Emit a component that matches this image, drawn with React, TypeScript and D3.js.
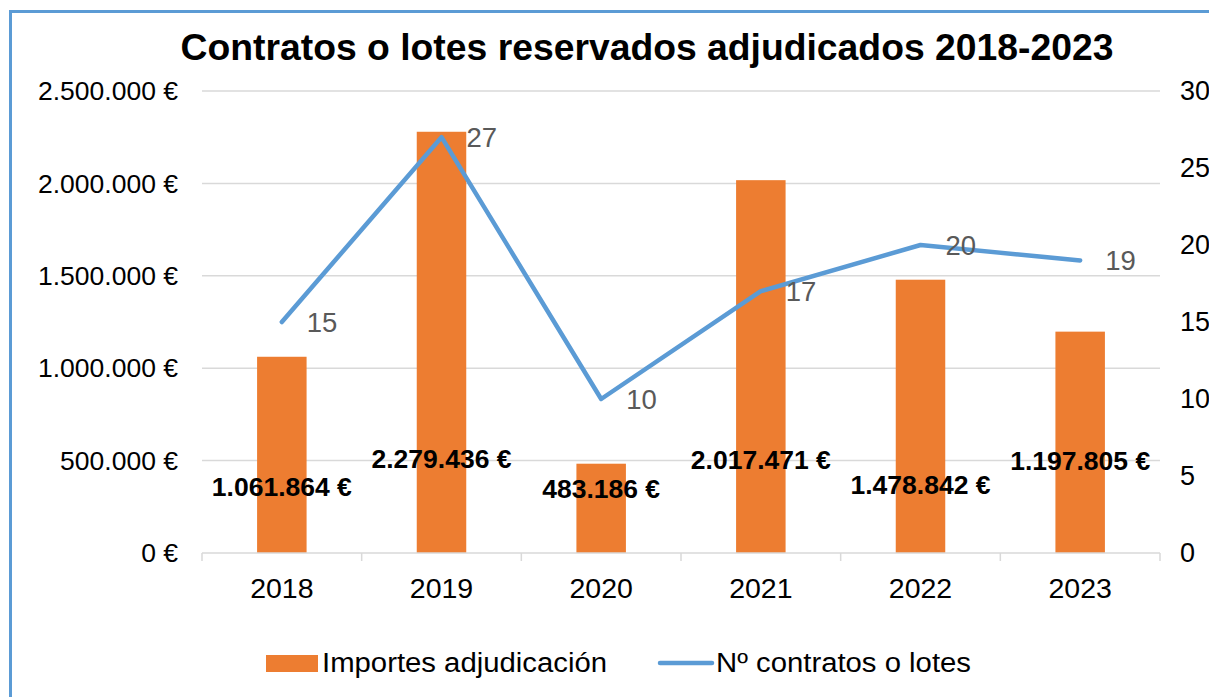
import React from "react";
import * as d3 from "d3";

const years = ["2018", "2019", "2020", "2021", "2022", "2023"];
const importes = [1061864, 2279436, 483186, 2017471, 1478842, 1197805];
const contratos = [15, 27, 10, 17, 20, 19];
const leftTicks = [0, 500000, 1000000, 1500000, 2000000, 2500000];
const rightTicks = [0, 5, 10, 15, 20, 25, 30];
const title = "Contratos o lotes reservados adjudicados 2018-2023";
const seriesNames = ["Importes adjudicación", "Nº contratos o lotes"];

const fmtEuro = (v: number) =>
  v.toString().replace(/\B(?=(\d{3})+(?!\d))/g, ".") + " €";

export default function App() {
  const W = 1209, H = 697;
  const left = 202, right = 1160, top = 91, bottom = 553;
  const x = d3.scaleBand<string>().domain(years).range([left, right]).paddingInner(0).paddingOuter(0);
  const yL = d3.scaleLinear().domain([0, 2500000]).range([bottom, top]);
  const yR = d3.scaleLinear().domain([0, 30]).range([bottom, top]);
  const bw = x.bandwidth() * 0.31;
  const cx = (y: string) => (x(y) as number) + x.bandwidth() / 2;
  const line = d3.line<number>().x((_, i) => cx(years[i])).y((d) => yR(d));
  const font = "Liberation Sans, Arial, sans-serif";
  const labelLevels = [357000, 510000, 350000, 505000, 370000, 500000];

  return (
    <svg width={W} height={H} style={{ position: "absolute", left: 0, top: 0, background: "#fff" }} fontFamily={font}>
      <rect x={0} y={0} width={W} height={H} fill="#fff" />
      <rect x={10.5} y={11.5} width={W + 20} height={H + 20} fill="none" stroke="#5B9BD5" strokeWidth={3} />
      <text x={647} y={60} textAnchor="middle" fontSize={37.3} fontWeight="bold" fill="#000">{title}</text>
      {leftTicks.map((t) => (
        <g key={t}>
          {t > 0 && <line x1={left} x2={right} y1={yL(t)} y2={yL(t)} stroke="#D9D9D9" strokeWidth={1.5} />}
          <text x={178} y={yL(t)} dy="0.35em" textAnchor="end" fontSize={26.5} fill="#000">{fmtEuro(t)}</text>
        </g>
      ))}
      {rightTicks.map((t) => (
        <text key={t} x={1180} y={yR(t)} dy="0.35em" textAnchor="start" fontSize={27} fill="#000">{t}</text>
      ))}
      {importes.map((v, i) => (
        <rect key={i} x={cx(years[i]) - bw / 2} y={yL(v)} width={bw} height={bottom - yL(v)} fill="#ED7D31" />
      ))}
      <line x1={left} x2={right} y1={bottom} y2={bottom} stroke="#D9D9D9" strokeWidth={1.5} />
      {years.map((yv) => (
        <line key={yv} x1={x(yv)} x2={x(yv)} y1={bottom} y2={bottom + 8} stroke="#D9D9D9" strokeWidth={1.5} />
      ))}
      <line x1={right} x2={right} y1={bottom} y2={bottom + 8} stroke="#D9D9D9" strokeWidth={1.5} />
      {years.map((yv) => (
        <text key={yv} x={cx(yv)} y={588} dy="0.35em" textAnchor="middle" fontSize={28.5} fill="#000">{yv}</text>
      ))}
      <path d={line(contratos) || ""} fill="none" stroke="#5B9BD5" strokeWidth={4.5} strokeLinecap="round" strokeLinejoin="round" />
      {contratos.map((c, i) => (
        <text key={i} x={cx(years[i]) + 25} y={yR(c)} dy="0.35em" textAnchor="start" fontSize={27.5} fill="#595959">{c}</text>
      ))}
      {importes.map((v, i) => (
        <text key={i} x={cx(years[i])} y={yL(labelLevels[i])} dy="0.35em" textAnchor="middle" fontSize={26.5} fontWeight="bold" fill="#000">{fmtEuro(v)}</text>
      ))}
      <g>
        <rect x={266} y={655} width={52} height={17} fill="#ED7D31" />
        <text x={322} y={663} dy="0.35em" fontSize={27} fill="#000" textLength={285} lengthAdjust="spacingAndGlyphs">{seriesNames[0]}</text>
        <line x1={660} x2={712} y1={663} y2={663} stroke="#5B9BD5" strokeWidth={4.5} strokeLinecap="round" />
        <text x={716} y={663} dy="0.35em" fontSize={27} fill="#000" textLength={255} lengthAdjust="spacingAndGlyphs">{seriesNames[1]}</text>
      </g>
    </svg>
  );
}
